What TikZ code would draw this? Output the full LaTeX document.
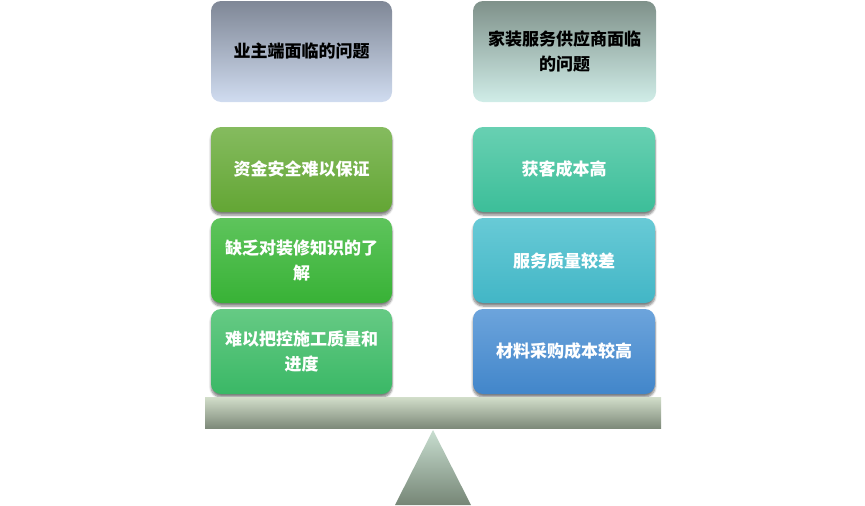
\documentclass[tikz,border=0pt]{standalone}
\usepackage{fontspec}
\setmainfont{Noto Sans CJK SC}
\usetikzlibrary{shadows.blur}
\definecolor{tlA}{HTML}{7F8796}\definecolor{tlB}{HTML}{D0DCF0}
\definecolor{trA}{HTML}{7F918A}\definecolor{trB}{HTML}{D0EDE8}
\definecolor{l2A}{HTML}{85BB5F}\definecolor{l2B}{HTML}{63A634}
\definecolor{r2A}{HTML}{68D0B2}\definecolor{r2B}{HTML}{3CBE99}
\definecolor{l3A}{HTML}{5EC45C}\definecolor{l3B}{HTML}{38B236}
\definecolor{r3A}{HTML}{68CAD6}\definecolor{r3B}{HTML}{42B6C6}
\definecolor{l4A}{HTML}{66CA84}\definecolor{l4B}{HTML}{3AB866}
\definecolor{r4A}{HTML}{6CA4DC}\definecolor{r4B}{HTML}{4286CA}
\definecolor{bmA}{HTML}{D2DECA}\definecolor{bmB}{HTML}{7E8A7A}
\definecolor{trgA}{HTML}{C8DED0}\definecolor{trgB}{HTML}{768676}
\tikzset{
  box/.style={rounded corners=10pt, minimum width=181pt, minimum height=85pt,
    align=center, font=\fontsize{17}{25.5}\selectfont\bfseries, inner sep=0pt},
  headbox/.style={box, minimum height=101pt, text=black},
  itembox/.style={box, text=white, blur shadow={shadow xshift=0pt, shadow yshift=-3pt, shadow blur steps=6, shadow opacity=50}},
}
\begin{document}
\begin{tikzpicture}[x=1pt,y=-1pt]
\useasboundingbox (0,0) rectangle (865,506);
% headers
\node[headbox, top color=tlA, bottom color=tlB] (h1) at (301.5,51.5) {业主端面临的问题};
\node[headbox, top color=trA, bottom color=trB, minimum width=183pt] (h2) at (564.5,51.5) {家装服务供应商面临\\的问题};
% left column
\node[itembox, top color=l2A, bottom color=l2B] (l1) at (301.5,169.5) {资金安全难以保证};
\node[itembox, top color=l3A, bottom color=l3B] (l2) at (301.5,260.5) {缺乏对装修知识的了\\解};
\node[itembox, top color=l4A, bottom color=l4B] (l3) at (301.5,351.5) {难以把控施工质量和\\进度};
% right column
\node[itembox, top color=r2A, bottom color=r2B, minimum width=182pt] (r1) at (564,169.5) {获客成本高};
\node[itembox, top color=r3A, bottom color=r3B, minimum width=182pt] (r2) at (564,260.5) {服务质量较差};
\node[itembox, top color=r4A, bottom color=r4B, minimum width=182pt] (r3) at (564,351.5) {材料采购成本较高};
% beam
\shade[top color=bmA, bottom color=bmB] (205,397) rectangle (661,428);
% fulcrum
\shade[top color=trgA, bottom color=trgB] (433,430) -- (471,505) -- (395,505) -- cycle;
\end{tikzpicture}
\end{document}
